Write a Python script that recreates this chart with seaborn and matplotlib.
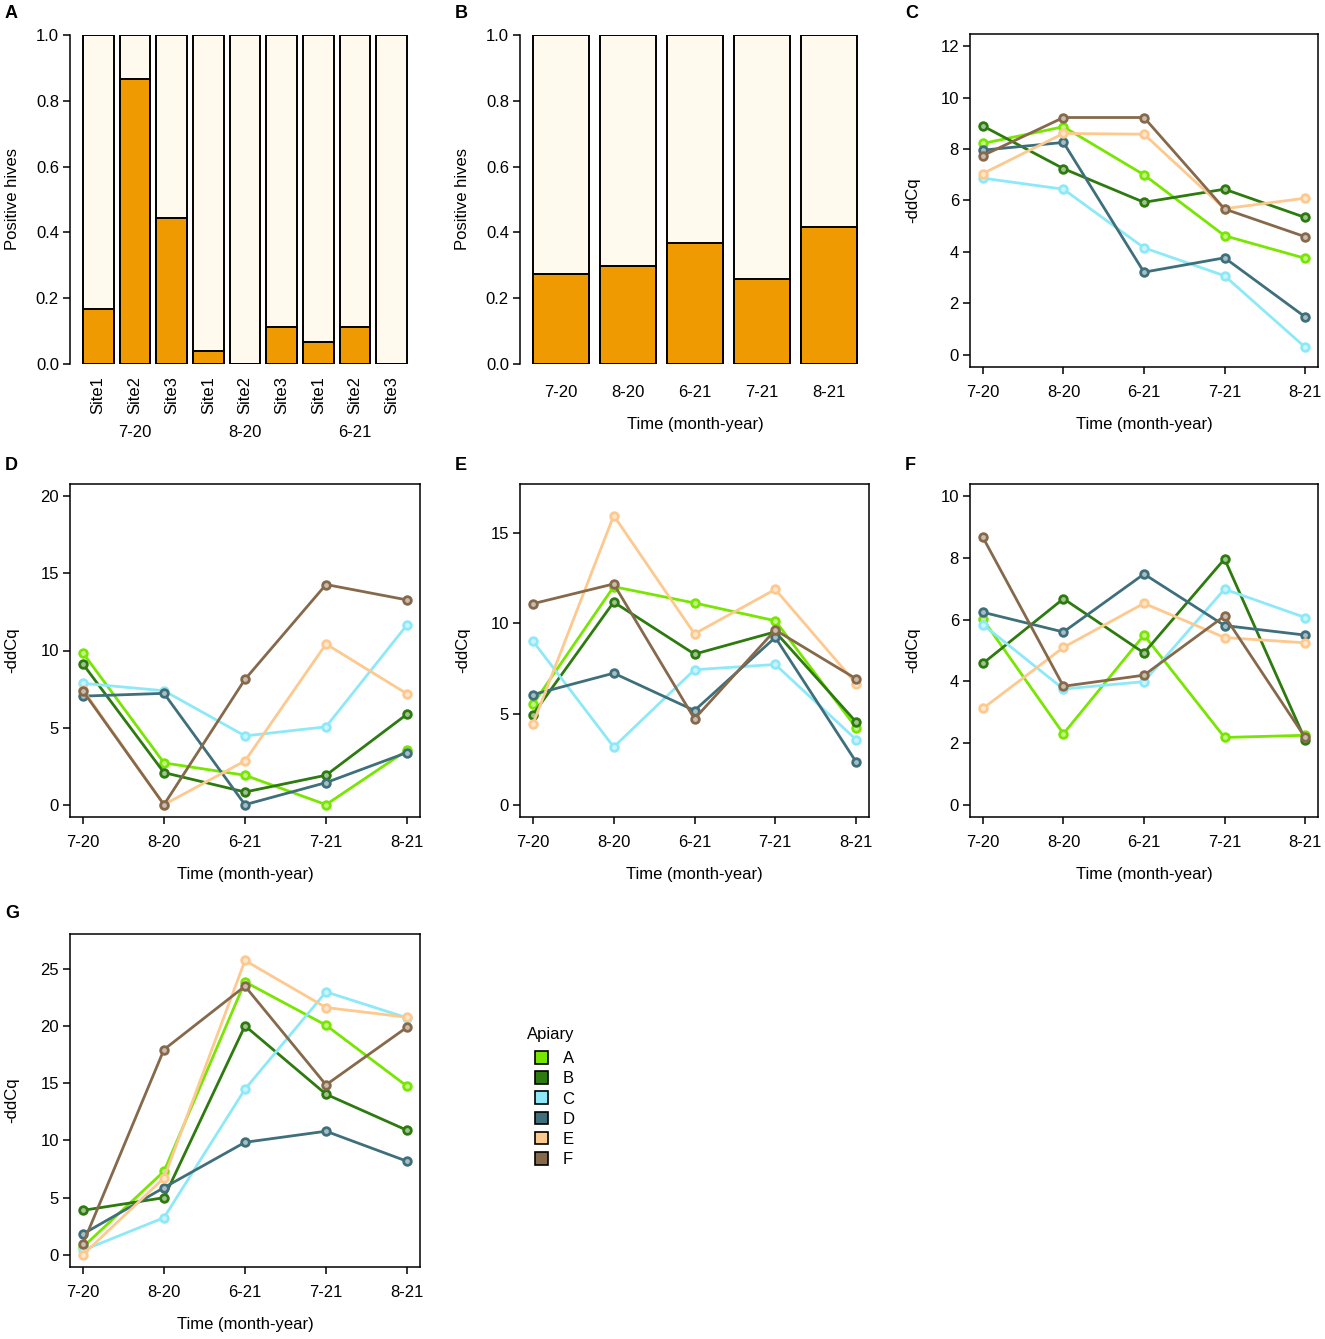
import numpy as np
import pandas as pd
import seaborn as sns
import matplotlib.pyplot as plt
from matplotlib.patches import Patch
from matplotlib.colors import to_rgb

sns.set_theme(style='white')
plt.rcParams['font.family'] = ['Liberation Sans', 'DejaVu Sans']
plt.rcParams['text.color'] = 'black'
plt.rcParams['axes.labelcolor'] = 'black'

# Données
temps = ['7-20', '8-20', '6-21', '7-21', '8-21']
apiaires = ['A', 'B', 'C', 'D', 'E', 'F']
couleurs = ['#78E600', '#2D7A0E', '#8DE9F7', '#3E6F7B', '#FDC98E', '#86694A']

# Panneau A : proportion de ruches positives par site
sites_a = ['Site1', 'Site2', 'Site3'] * 3
groupes_a = ['7-20', '8-20', '6-21']
positifs_a = [0.167, 0.866, 0.445, 0.041, 0.0, 0.112, 0.068, 0.112, 0.0]

# Panneau B : proportion de ruches positives par période
positifs_b = [0.274, 0.298, 0.368, 0.258, 0.416]

# Panneaux C-G : -ddCq par rucher (lignes A..F, colonnes = temps)
valeurs_c = [[8.22, 8.87, 7.00, 4.63, 3.75],
             [8.90, 7.24, 5.93, 6.44, 5.34],
             [6.87, 6.44, 4.16, 3.07, 0.29],
             [7.96, 8.26, 3.21, 3.77, 1.47],
             [7.05, 8.61, 8.58, 5.68, 6.09],
             [7.75, 9.23, 9.23, 5.67, 4.59]]
valeurs_d = [[9.84, 2.71, 1.91, 0.00, 3.53],
             [9.12, 2.08, 0.82, 1.91, 5.87],
             [7.87, 7.39, 4.46, 5.05, 11.66],
             [7.04, 7.22, 0.00, 1.43, 3.38],
             [7.45, 0.00, 2.84, 10.42, 7.19],
             [7.37, 0.00, 8.13, 14.28, 13.28]]
valeurs_e = [[5.54, 12.02, 11.12, 10.14, 4.25],
             [4.97, 11.17, 8.30, 9.53, 4.56],
             [9.02, 3.18, 7.44, 7.73, 3.59],
             [6.07, 7.25, 5.19, 9.22, 2.36],
             [4.45, 15.94, 9.42, 11.87, 6.68],
             [11.08, 12.17, 4.73, 9.63, 6.94]]
valeurs_f = [[6.01, 2.30, 5.50, 2.18, 2.25],
             [4.58, 6.68, 4.92, 7.97, 2.11],
             [5.84, 3.75, 3.99, 6.99, 6.07],
             [6.24, 5.60, 7.48, 5.81, 5.50],
             [3.12, 5.10, 6.53, 5.42, 5.25],
             [8.67, 3.84, 4.20, 6.12, 2.18]]
valeurs_g = [[0.67, 7.30, 23.89, 20.09, 14.75],
             [3.88, 4.99, 20.04, 14.05, 10.89],
             [0.38, 3.24, 14.49, 23.01, 20.74],
             [1.81, 5.87, 9.84, 10.81, 8.18],
             [0.00, 6.72, 25.76, 21.64, 20.79],
             [0.96, 17.96, 23.51, 14.87, 19.92]]

orange = '#EE9A00'
creme = '#FFF9EE'

W, H = 1325, 1339
fig = plt.figure(figsize=(W / 100, H / 100), dpi=100)


def zone(x0, y0, x1, y1):
    # position en pixels -> fraction de figure
    return fig.add_axes([x0 / W, 1 - y1 / H, (x1 - x0) / W, (y1 - y0) / H])


def clair(c, f=0.55):
    r, g, b = to_rgb(c)
    return (r + (1 - r) * f, g + (1 - g) * f, b + (1 - b) * f)


def titre_y(ax, texte):
    ax.set_ylabel(texte, fontsize=12, color='black', va='center')
    ax.yaxis.set_label_coords(-0.165, 0.5)


def titre_x(ax, y):
    ax.set_xlabel('Time (month-year)', fontsize=12, color='black', va='center')
    ax.xaxis.set_label_coords(0.5, y)


def barres(ax, valeurs, noms, marge, pad, rotation=0):
    n = len(valeurs)
    d = pd.DataFrame({'barre': [str(i) for i in range(n)], 'val': valeurs})
    sns.barplot(data=d, x='barre', y=[1.0] * n, color=creme, edgecolor='black',
                linewidth=1.4, width=0.833, ax=ax, saturation=1)
    sns.barplot(data=d, x='barre', y='val', color=orange, edgecolor='black',
                linewidth=1.4, width=0.833, ax=ax, saturation=1)
    ax.set_xlim(-0.4167 - marge, n - 1 + 0.4167 + marge)
    ax.set_ylim(0, 1)
    ax.set_yticks([0, 0.2, 0.4, 0.6, 0.8, 1.0])
    ax.set_yticklabels(['0.0', '0.2', '0.4', '0.6', '0.8', '1.0'])
    ax.set_xticks(range(n))
    ax.set_xticklabels(noms, rotation=rotation)
    for s in ['top', 'right', 'bottom']:
        ax.spines[s].set_visible(False)
    ax.spines['left'].set_linewidth(1.1)
    ax.spines['left'].set_color('black')
    ax.tick_params(axis='y', length=5, width=1.1, pad=3, labelsize=12, left=True, colors='black')
    ax.tick_params(axis='x', length=0, pad=pad, labelsize=12, colors='black')
    ax.set_xlabel('')
    titre_y(ax, 'Positive hives')


def lignes(ax, valeurs, ymax, yticks):
    x = np.arange(len(temps))
    for ap, coul, vals in zip(apiaires, couleurs, valeurs):
        d = pd.DataFrame({'t': x, 'v': vals})
        sns.lineplot(data=d, x='t', y='v', color=coul, linewidth=2.0, marker='o',
                     markersize=5.5, markeredgewidth=2.0, markeredgecolor=coul,
                     markerfacecolor=clair(coul), ax=ax, legend=False)
    ax.set_xlim(-0.16, len(temps) - 1 + 0.16)
    ax.set_ylim(-0.04 * ymax, 1.04 * ymax)
    ax.set_yticks(yticks)
    ax.set_yticklabels([str(t) for t in yticks])
    ax.set_xticks(x)
    ax.set_xticklabels(temps)
    for s in ax.spines.values():
        s.set_visible(True)
        s.set_color('black')
        s.set_linewidth(1.1)
    ax.tick_params(length=5, width=1.1, pad=3, labelsize=12, left=True, bottom=True, colors='black')
    ax.tick_params(axis='x', pad=8)
    titre_x(ax, -0.174)
    titre_y(ax, '-ddCq')


# A
axA = zone(70, 35, 420, 364)
barres(axA, positifs_a, sites_a, marge=0.354, pad=9, rotation=90)
for i, g in enumerate(groupes_a):
    axA.text(3 * i + 1, -0.207, g, ha='center', va='center', fontsize=12,
             color='black', transform=axA.get_xaxis_transform())

# B
axB = zone(520, 35, 870, 364)
barres(axB, positifs_b, temps, marge=0.194, pad=15)
titre_x(axB, -0.185)

# C-G
lignes(zone(970, 34, 1318, 367), valeurs_c, 12, [0, 2, 4, 6, 8, 10, 12])
lignes(zone(70, 484, 420, 817), valeurs_d, 20, [0, 5, 10, 15, 20])
lignes(zone(520, 484, 869, 817), valeurs_e, 17, [0, 5, 10, 15])
lignes(zone(970, 484, 1318, 817), valeurs_f, 10, [0, 2, 4, 6, 8, 10])
lignes(zone(70, 934, 420, 1267), valeurs_g, 27, [0, 5, 10, 15, 20, 25])

# lettres des panneaux
for lettre, (px, py) in zip('ABCDEFG', [(5, 13), (455, 13), (905, 13), (5, 465),
                                        (455, 465), (905, 465), (5, 913)]):
    fig.text(px / W, 1 - py / H, lettre, fontsize=13, fontweight='bold',
             color='black', va='center', ha='left')

# légende
fig.text(527 / W, 1 - 1035 / H, 'Apiary', fontsize=12, color='black', ha='left', va='center')
poignees = [Patch(facecolor=c, edgecolor='black', linewidth=1.2) for c in couleurs]
leg = fig.legend(poignees, apiaires, loc='upper left', borderpad=0, borderaxespad=0,
                 bbox_to_anchor=(535 / W, 1 - 1051 / H), frameon=False, fontsize=12,
                 handlelength=0.8, handleheight=0.8, labelspacing=0.3,
                 handletextpad=0.85, labelcolor='black')

fig.savefig('out.png', dpi=100)
